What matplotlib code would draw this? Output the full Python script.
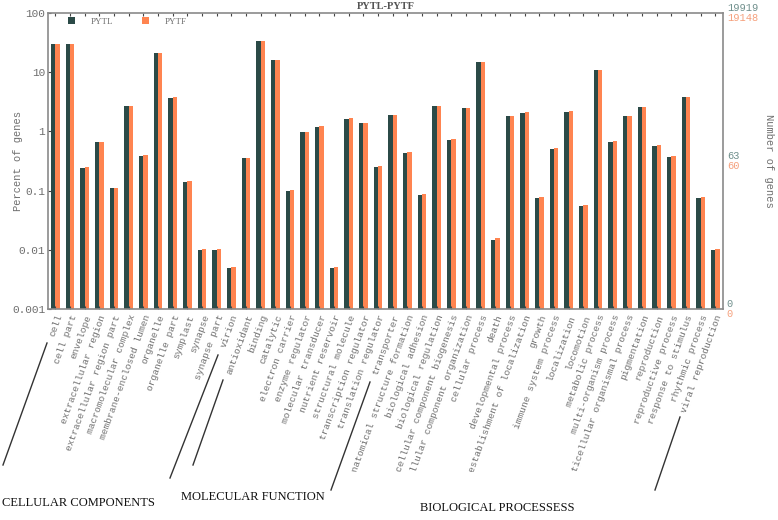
import matplotlib
matplotlib.use('Agg')
import matplotlib.pyplot as plt
import numpy as np
from matplotlib.lines import Line2D
from matplotlib.transforms import Bbox, TransformedBbox

# GO terms, in plotting order
cc_terms = ['cell', 'cell part', 'envelope', 'extracellular region', 'extracellular region part',
            'macromolecular complex', 'membrane-enclosed lumen', 'organelle', 'organelle part',
            'symplast', 'synapse', 'synapse part', 'virion']
mf_terms = ['antioxidant', 'binding', 'catalytic', 'electron carrier', 'enzyme regulator',
            'molecular transducer', 'nutrient reservoir', 'structural molecule',
            'transcription regulator', 'translation regulator', 'transporter']
bp_terms = ['anatomical structure formation', 'biological adhesion', 'biological regulation',
            'cellular component biogenesis', 'cellular component organization', 'cellular process',
            'death', 'developmental process', 'establishment of localization', 'growth',
            'immune system process', 'localization', 'locomotion', 'metabolic process',
            'multi-organism process', 'multicellular organismal process', 'pigmentation',
            'reproduction', 'reproductive process', 'response to stimulus', 'rhythmic process',
            'viral reproduction']
categories = cc_terms + mf_terms + bp_terms

# percent of genes
pytl = [29.6, 29.6, 0.24, 0.65, 0.109, 2.64, 0.38, 21.0, 3.65, 0.138, 0.0100, 0.0100, 0.0050,
        0.35, 33.7, 15.9, 0.100, 0.97, 1.20, 0.0050, 1.63, 1.36, 0.253, 1.86,
        0.435, 0.084, 2.67, 0.71, 2.44, 14.6, 0.0150, 1.81, 2.06, 0.076, 0.50, 2.14, 0.055,
        10.8, 0.67, 1.81, 2.54, 0.565, 0.373, 3.79, 0.076, 0.0100]
pytf = [29.8, 29.8, 0.25, 0.66, 0.112, 2.68, 0.40, 21.2, 3.75, 0.145, 0.0104, 0.0104, 0.0052,
        0.36, 33.9, 16.0, 0.104, 0.98, 1.21, 0.0052, 1.66, 1.38, 0.26, 1.90,
        0.45, 0.088, 2.70, 0.74, 2.47, 14.7, 0.0157, 1.83, 2.08, 0.078, 0.52, 2.16, 0.057,
        10.9, 0.69, 1.83, 2.57, 0.58, 0.385, 3.85, 0.079, 0.0104]

# number of genes on the right axis
totals = [19919, 19148]
mid_counts = [63, 60]

series_names = ['PYTL', 'PYTF']
group_names = ['CELLULAR COMPONENTS', 'MOLECULAR FUNCTION', 'BIOLOGICAL PROCESSESS']

green = '#2b4a47'
orange = '#ff8450'
grey = '#6e6e6e'
mono = ['Liberation Mono', 'DejaVu Sans Mono']

fig = plt.figure(figsize=(7.78, 5.2), dpi=100)
ax = fig.add_axes([0.0617, 0.4052, 0.8673, 0.5704])

x = np.arange(len(categories))
w = 0.3
b1 = ax.bar(x - w / 2, pytl, width=w, color=green, label=series_names[0])
b2 = ax.bar(x + w / 2, pytf, width=w, color=orange, label=series_names[1])

ax.set_yscale('log')
ax.set_ylim(0.001, 100)
ax.set_xlim(-0.5, len(categories) - 0.5)
yt = [0.001, 0.01, 0.1, 1, 10, 100]
ax.set_yticks(yt)
ax.set_yticklabels(['0.001', '0.01', '0.1', '1', '10', '100'], family=mono, fontsize=8, color=grey)
ax.yaxis.set_minor_locator(matplotlib.ticker.NullLocator())
ax.set_xticks(x)
ax.set_xticklabels(categories, rotation=70, ha='right', va='top', rotation_mode='anchor',
                   family=mono, fontsize=6.8, color=grey)
ax.tick_params(axis='x', top=True, direction='in', length=2, color='#444444', pad=3)
ax.tick_params(axis='y', direction='in', length=2, color='#444444', pad=2)
for s in ax.spines.values():
    s.set_color('#8a8a8a')
    s.set_linewidth(1.2)

# clip long labels at the bottom like the original
clip = TransformedBbox(Bbox.from_extents(0, 48 / 520, 1, 1), fig.transFigure)
for lab in ax.get_xticklabels():
    lab.set_clip_on(True)
    lab.set_clip_box(clip)

ax.set_ylabel('Percent of genes', family=mono, fontsize=7.5, color=grey)
ax.yaxis.set_label_coords(-0.037, 0.5)
ax.set_title('PYTL-PYTF', family=['Liberation Serif'], fontsize=7.5, color='#555555',
             fontweight='bold', pad=3)

ax.legend(handles=[b1, b2], loc='upper left', bbox_to_anchor=(0.018, 1.012), ncol=2,
          frameon=False, handlelength=0.7, handleheight=0.7,
          columnspacing=3.2, handletextpad=1.8, labelcolor=grey,
          prop={'family': 'Liberation Serif', 'size': 6.5})

# right axis: number of genes
ytr = ax.get_yaxis_transform()
for tot, mid, col, va in [(totals[0], mid_counts[0], '#6f8f8c', 'bottom'),
                          (totals[1], mid_counts[1], '#f5a07c', 'top')]:
    for cnt in [0, mid, tot]:
        yv = max(cnt / tot * 100, 0.001)
        ax.text(1.006, yv, str(cnt), transform=ytr, family=mono, fontsize=7.5,
                color=col, va=va, ha='left')
ax.text(1.068, 0.5, 'Number of genes', transform=ax.transAxes, rotation=270,
        family=mono, fontsize=7.5, color=grey, va='center', ha='center')

# group divider lines (pixel coords of the reference)
def fig_line(p0, p1):
    fig.add_artist(Line2D([p0[0] / 778, p1[0] / 778], [1 - p0[1] / 520, 1 - p1[1] / 520],
                          color='#333333', lw=1))

fig_line((47, 343), (3, 465))
fig_line((218, 355), (170, 478))
fig_line((223, 380), (193, 465))
fig_line((370, 382), (331, 490))
fig_line((680, 417), (655, 490))

for name, xp, yp in zip(group_names, [78, 253, 497], [503, 497, 508]):
    fig.text(xp / 778, 1 - yp / 520, name, family=['Liberation Serif'], fontsize=9,
             color='#111111', ha='center', va='center')

fig.savefig('out.png', dpi=100)
